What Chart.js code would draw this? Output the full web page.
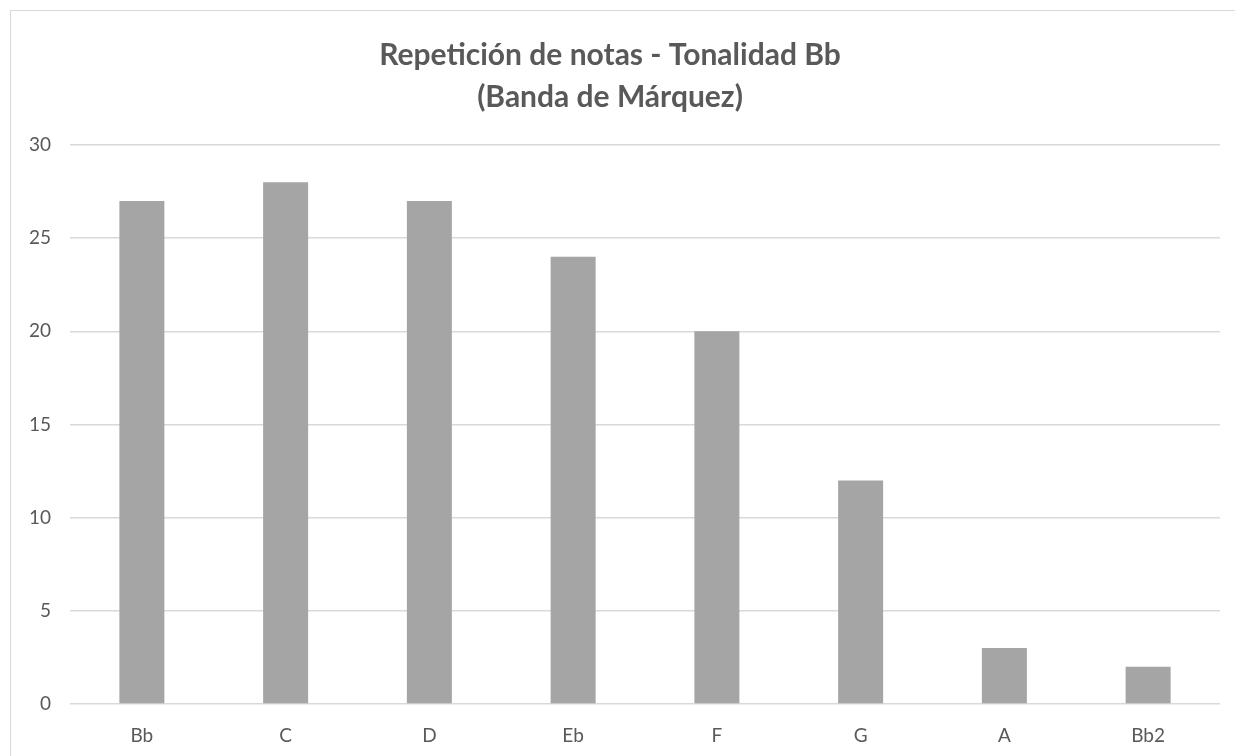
<!DOCTYPE html>
<html>
<head>
<meta charset="utf-8">
<script src="https://cdn.jsdelivr.net/npm/chart.js@4.4.0/dist/chart.umd.min.js"></script>
<style>
  html, body { margin: 0; padding: 0; width: 1235px; height: 756px; overflow: hidden; background: #fff; }
  #frame { position: absolute; left: 10px; top: 10px; width: 1300px; height: 800px; border: 1px solid #d9d9d9; box-sizing: border-box; }
  #wrap { position: absolute; left: 0; top: 0; width: 1235px; height: 756px; }
</style>
</head>
<body>
<div id="frame"></div>
<div id="wrap"><canvas id="c" width="1235" height="756"></canvas></div>
<script>
const categories = ['Bb', 'C', 'D', 'Eb', 'F', 'G', 'A', 'Bb2'];
const values = [27, 28, 27, 24, 20, 12, 3, 2];
const yTicks = [0, 5, 10, 15, 20, 25, 30];
const titleLines = ['Repetición de notas - Tonalidad Bb', '(Banda de Márquez)'];

const FONT = 'Lato, "Open Sans", sans-serif';
const TEXT = '#595959';

new Chart(document.getElementById('c'), {
  type: 'bar',
  data: {
    labels: categories,
    datasets: [{
      data: values,
      backgroundColor: '#A5A5A5',
      borderWidth: 0,
      categoryPercentage: 1,
      barPercentage: 0.313
    }]
  },
  options: {
    responsive: false,
    animation: false,
    layout: { padding: { left: 0, right: 15, top: 0, bottom: 0 } },
    plugins: {
      legend: { display: false },
      tooltip: { enabled: false },
      title: {
        display: true,
        text: titleLines,
        color: TEXT,
        font: { family: FONT, size: 30, weight: 'bold', lineHeight: 1.4 },
        padding: { top: 34, bottom: 27 }
      }
    },
    scales: {
      x: {
        grid: { display: false, drawTicks: false },
        border: { display: false },
        ticks: { color: TEXT, font: { family: FONT, size: 19 }, padding: 20 },
        afterFit: (s) => { s.height = 52; }
      },
      y: {
        min: 0,
        max: 30,
        afterBuildTicks: (s) => { s.ticks = yTicks.map(v => ({ value: v })); },
        grid: { color: '#d9d9d9', lineWidth: 1.5, drawTicks: false },
        border: { display: false },
        ticks: { color: TEXT, font: { family: FONT, size: 19 }, padding: 19 },
        afterFit: (s) => { s.width = 70; }
      }
    }
  }
});
</script>
</body>
</html>
